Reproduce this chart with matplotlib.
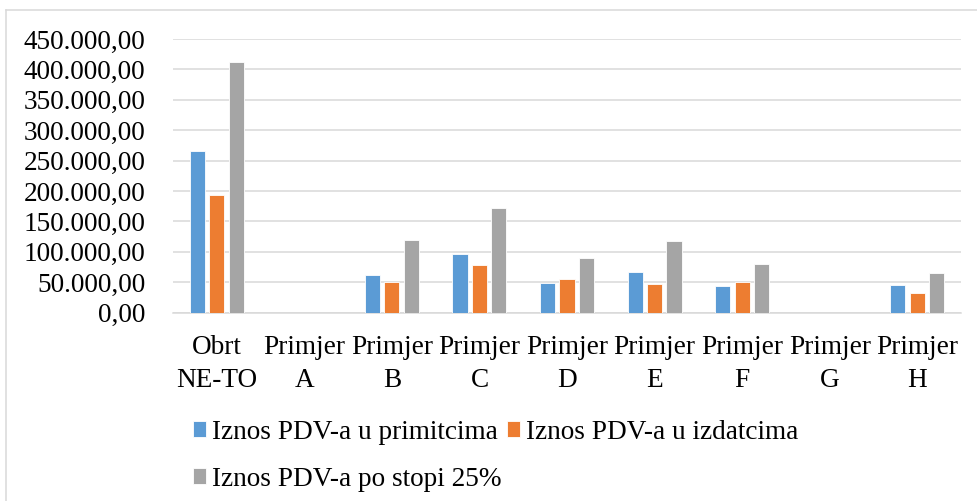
import matplotlib.pyplot as plt
import numpy as np
from matplotlib.lines import Line2D
from matplotlib.ticker import FuncFormatter

plt.rcParams['font.family'] = ['Liberation Serif', 'DejaVu Serif']

# data
categories = ['Obrt\nNE-TO', 'Primjer\nA', 'Primjer\nB', 'Primjer\nC', 'Primjer\nD',
              'Primjer\nE', 'Primjer\nF', 'Primjer\nG', 'Primjer\nH']
primitci = [266400, 0, 62500, 96500, 48300, 66400, 43900, 0, 45500]
izdatci = [193500, 0, 50000, 78400, 55400, 47200, 50500, 0, 32400]
stopa25 = [411700, 0, 119500, 171600, 89400, 117900, 80600, 0, 65800]
series_names = ['Iznos PDV-a u primitcima', 'Iznos PDV-a u izdatcima',
                'Iznos PDV-a po stopi 25%']
colors = ['#5B9BD5', '#ED7D31', '#A5A5A5']

W, H = 978, 501
fig = plt.figure(figsize=(W / 100, H / 100), dpi=100)
ax = fig.add_axes([173 / W, 1 - 312.7 / H, (961 - 173) / W, (312.7 - 39) / H])

x = np.arange(len(categories))
width = 0.172
step = 0.222
bars = []
for i, (vals, c) in enumerate(zip([primitci, izdatci, stopa25], colors)):
    b = ax.bar(x + (i - 1) * step, vals, width, color=c, edgecolor='white',
               linewidth=0.6, zorder=3)
    bars.append(b)

ax.set_xlim(-0.5, len(categories) - 0.5)
ax.set_ylim(0, 450000)
ax.set_yticks(np.arange(0, 450001, 50000))


def fmt(v, pos):
    s = f'{v:,.2f}'
    return s.replace(',', 'X').replace('.', ',').replace('X', '.')


ax.yaxis.set_major_formatter(FuncFormatter(fmt))
ax.set_xticks(x)
ax.set_xticklabels(categories, linespacing=1.42)
ax.tick_params(axis='both', length=0, labelsize=19.6, colors='black')
ax.tick_params(axis='y', pad=20)
ax.tick_params(axis='x', pad=16)
ax.grid(axis='y', color='#D9D9D9', linewidth=1.1, zorder=0)
for s in ['top', 'right', 'left']:
    ax.spines[s].set_visible(False)
ax.spines['bottom'].set_color('#D9D9D9')
ax.spines['bottom'].set_linewidth(1.1)

# legend, Excel-style row order
handles = [bars[0], bars[2], bars[1]]
labels = [series_names[0], series_names[2], series_names[1]]
fig.legend(handles, labels, ncol=2, loc='upper left',
           bbox_to_anchor=(190 / W, 1 - 417 / H), frameon=False, fontsize=19.6,
           handlelength=0.5, handleheight=0.5, handletextpad=0.2,
           columnspacing=0.2, labelspacing=0.8, borderpad=0.1, borderaxespad=0)

# chart area border
fig.add_artist(Line2D([6.5 / W, 1], [1 - 9.5 / H, 1 - 9.5 / H], color='#D9D9D9',
                      linewidth=1.1, transform=fig.transFigure))
fig.add_artist(Line2D([6.5 / W, 6.5 / W], [0, 1 - 9.5 / H], color='#D9D9D9',
                      linewidth=1.1, transform=fig.transFigure))

plt.savefig('out.png', dpi=100)
